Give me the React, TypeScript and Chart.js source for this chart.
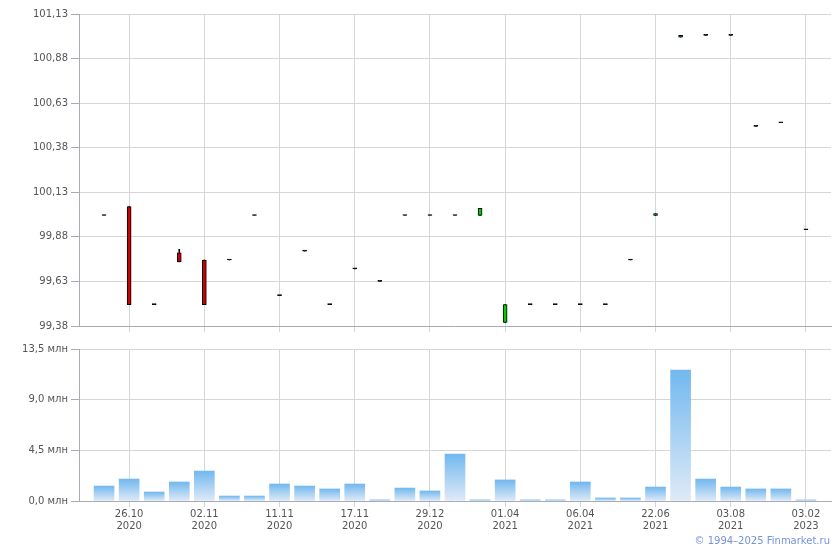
import React, { useEffect, useRef } from 'react';
import { Chart, registerables } from 'chart.js';
Chart.register(...registerables);

// ---- data ----
const dateLabels = ['26.10', '02.11', '11.11', '17.11', '29.12', '01.04', '06.04', '22.06', '03.08', '03.02'];
const yearLabels = ['2020', '2020', '2020', '2020', '2020', '2021', '2021', '2021', '2021', '2023'];
const labelIndex = [1, 4, 7, 10, 13, 16, 19, 22, 25, 28];

const opens = [100.0, 100.05, 99.5, 99.79, 99.75, 99.75, 100.0, 99.55, 99.8, 99.5, 99.7, 99.63, 100.0, 100.0, 100.0, 100.0, 99.4, 99.5, 99.5, 99.5, 99.5, 99.75, 100.0, 101.0, 101.01, 101.01, 100.5, 100.52, 99.92];
const closes = [100.0, 99.5, 99.5, 99.74, 99.5, 99.75, 100.0, 99.55, 99.8, 99.5, 99.7, 99.63, 100.0, 100.0, 100.0, 100.04, 99.5, 99.5, 99.5, 99.5, 99.5, 99.75, 100.01, 101.01, 101.01, 101.01, 100.5, 100.52, 99.92];
const highs = [100.0, 100.05, 99.5, 99.81, 99.75, 99.75, 100.0, 99.55, 99.8, 99.5, 99.7, 99.63, 100.0, 100.0, 100.0, 100.04, 99.5, 99.5, 99.5, 99.5, 99.5, 99.75, 100.01, 101.01, 101.01, 101.01, 100.5, 100.52, 99.92];
const lows = [100.0, 99.5, 99.5, 99.74, 99.5, 99.75, 100.0, 99.55, 99.8, 99.5, 99.7, 99.63, 100.0, 100.0, 100.0, 100.0, 99.4, 99.5, 99.5, 99.5, 99.5, 99.75, 100.0, 101.0, 101.01, 101.01, 100.5, 100.52, 99.92];
const volumes = [1.33, 1.95, 0.8, 1.69, 2.66, 0.44, 0.44, 1.51, 1.33, 1.07, 1.51, 0.1, 1.15, 0.89, 4.17, 0.1, 1.87, 0.1, 0.1, 1.69, 0.27, 0.27, 1.24, 11.63, 1.95, 1.24, 1.07, 1.07, 0.09];

const priceTicks = [99.38, 99.63, 99.88, 100.13, 100.38, 100.63, 100.88, 101.13];
const volumeTicks = [0, 4.5, 9, 13.5];

// ---- styles ----
const FONT = { family: '"DejaVu Sans", Verdana, sans-serif', size: 10 };
const TEXT = '#555555';
const GRID = '#d3d7db';
const AXIS = '#a8abb4';

const xScale = (showLabels: boolean, height: number) => ({
  type: 'linear' as const,
  min: -1,
  max: 29,
  offset: false,
  afterBuildTicks: (s: any) => {
    s.ticks = labelIndex.map((v) => ({ value: v }));
  },
  afterFit: (s: any) => {
    s.height = height;
  },
  grid: { color: GRID, tickColor: GRID, tickLength: 6, drawTicks: true, offset: false },
  border: { color: AXIS },
  ticks: {
    autoSkip: false,
    maxRotation: 0,
    padding: 1,
    color: TEXT,
    font: FONT,
    callback: (v: number) => {
      if (!showLabels) return '';
      const k = labelIndex.indexOf(v);
      return k >= 0 ? [dateLabels[k], yearLabels[k]] : '';
    },
  },
});

export default function App() {
  const topRef = useRef<HTMLCanvasElement>(null);
  const botRef = useRef<HTMLCanvasElement>(null);

  useEffect(() => {
    const top = new Chart(topRef.current!, {
      type: 'bar',
      data: {
        datasets: [
          {
            data: lows.map((l, i) => ({ x: i, y: [l, highs[i]] })) as any,
            backgroundColor: '#000000',
            borderWidth: 0,
            barThickness: 1,
            grouped: false,
            order: 2,
          } as any,
          {
            data: opens.map((o, i) => ({ x: i, y: [o, closes[i]] })) as any,
            backgroundColor: opens.map((o, i) => (closes[i] > o ? '#00cc00' : closes[i] < o ? '#cc0000' : '#000000')),
            borderColor: '#000000',
            borderWidth: 1,
            borderSkipped: false,
            barThickness: 4,
            minBarLength: 1,
            grouped: false,
            order: 1,
          } as any,
        ],
      },
      options: {
        animation: false,
        responsive: false,
        maintainAspectRatio: false,
        layout: { padding: { top: 14, right: 9, left: 0, bottom: 0 } },
        plugins: { legend: { display: false }, tooltip: { enabled: false } },
        scales: {
          x: xScale(false, 14) as any,
          y: {
            min: 99.38,
            max: 101.13,
            afterBuildTicks: (s: any) => {
              s.ticks = priceTicks.map((v) => ({ value: v }));
            },
            afterFit: (s: any) => {
              s.width = 79;
            },
            grid: { color: GRID, tickColor: AXIS, tickLength: 8 },
            border: { color: AXIS },
            ticks: {
              color: TEXT,
              font: FONT,
              padding: 3,
              callback: (v: number) => v.toFixed(2).replace('.', ','),
            },
          },
        },
      },
    });

    const bot = new Chart(botRef.current!, {
      type: 'bar',
      data: {
        datasets: [
          {
            data: volumes.map((v, i) => ({ x: i, y: v })) as any,
            barThickness: 20,
            borderWidth: 0,
            backgroundColor: (ctx: any) => {
              const chart = ctx.chart;
              const ys = chart.scales && chart.scales.y;
              if (!ys || !chart.chartArea || ctx.raw == null) return '#8ec5f0';
              const yTop = ys.getPixelForValue(ctx.raw.y);
              const yBase = ys.getPixelForValue(0);
              if (yBase - yTop < 1) return '#8ec5f0';
              const g = chart.ctx.createLinearGradient(0, yTop, 0, yBase);
              g.addColorStop(0, '#72b8ef');
              g.addColorStop(1, '#dfeaf7');
              return g;
            },
          } as any,
        ],
      },
      options: {
        animation: false,
        responsive: false,
        maintainAspectRatio: false,
        layout: { padding: { top: 9, right: 9, left: 0, bottom: 0 } },
        plugins: { legend: { display: false }, tooltip: { enabled: false } },
        scales: {
          x: xScale(true, 49) as any,
          y: {
            min: 0,
            max: 13.5,
            afterBuildTicks: (s: any) => {
              s.ticks = volumeTicks.map((v) => ({ value: v }));
            },
            afterFit: (s: any) => {
              s.width = 79;
            },
            grid: { color: GRID, tickColor: AXIS, tickLength: 8 },
            border: { color: AXIS },
            ticks: {
              color: TEXT,
              font: FONT,
              padding: 3,
              callback: (v: number) => v.toFixed(1).replace('.', ',') + ' млн',
            },
          },
        },
      },
    });

    return () => {
      top.destroy();
      bot.destroy();
    };
  }, []);

  return (
    <div style={{ position: 'fixed', left: 0, top: 0, width: 840, height: 550, background: '#ffffff', overflow: 'hidden' }}>
      <canvas ref={topRef} width={840} height={340} style={{ position: 'absolute', left: 0, top: 0, width: 840, height: 340 }} />
      <canvas ref={botRef} width={840} height={210} style={{ position: 'absolute', left: 0, top: 340, width: 840, height: 210 }} />
      <div
        style={{
          position: 'absolute',
          right: 10,
          top: 535,
          fontFamily: '"DejaVu Sans", Verdana, sans-serif',
          fontSize: 10,
          lineHeight: '12px',
          color: '#7592e0',
          whiteSpace: 'nowrap',
        }}
      >
        © 1994–2025 Finmarket.ru
      </div>
    </div>
  );
}
